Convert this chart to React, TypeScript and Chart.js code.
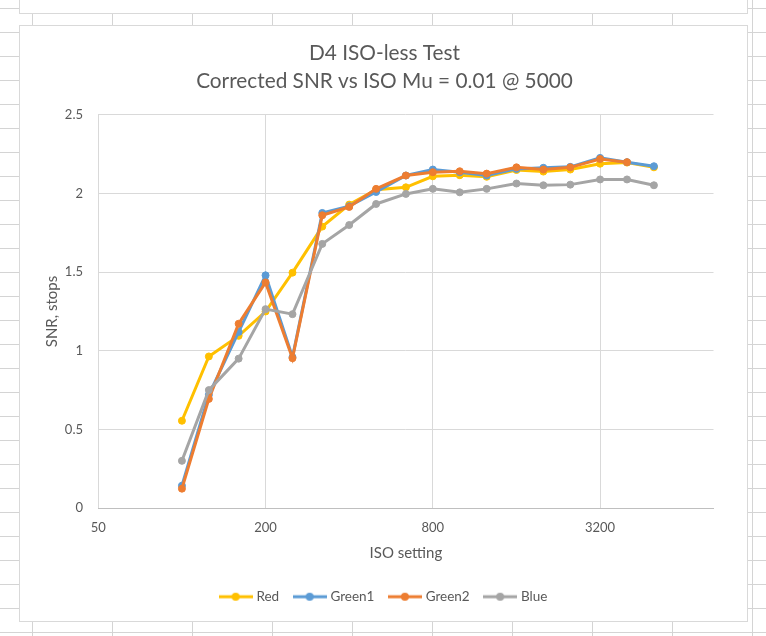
import React, { useEffect, useRef } from "react";
import { Chart, registerables } from "chart.js";

Chart.register(...registerables);

// ---- data ----
const isoSettings = [100, 125, 160, 200, 250, 320, 400, 500, 640, 800, 1000, 1250, 1600, 2000, 2500, 3200, 4000, 5000];
const redSNR = [0.555, 0.964, 1.095, 1.25, 1.497, 1.79, 1.93, 2.025, 2.04, 2.11, 2.117, 2.107, 2.15, 2.14, 2.153, 2.19, 2.197, 2.167];
const green1SNR = [0.142, 0.72, 1.12, 1.48, 0.96, 1.877, 1.92, 2.01, 2.115, 2.153, 2.136, 2.115, 2.157, 2.164, 2.17, 2.227, 2.2, 2.174];
const green2SNR = [0.123, 0.694, 1.172, 1.435, 0.953, 1.862, 1.915, 2.03, 2.115, 2.136, 2.142, 2.127, 2.167, 2.153, 2.167, 2.22, 2.2, null];
const blueSNR = [0.3, 0.75, 0.95, 1.265, 1.233, 1.68, 1.8, 1.934, 1.998, 2.03, 2.008, 2.03, 2.064, 2.053, 2.057, 2.09, 2.09, 2.053];

const seriesNames = ["Red", "Green1", "Green2", "Blue"];
const seriesColors = ["#FFC000", "#5B9BD5", "#ED7D31", "#A5A5A5"];
const seriesValues = [redSNR, green1SNR, green2SNR, blueSNR];

const xTickValues = [50, 200, 800, 3200];
const xMin = 50;
const xMax = 8192;
const yMin = 0;
const yMax = 2.5;
const yStep = 0.5;

const titleLines = ["D4 ISO-less Test", "Corrected SNR vs ISO Mu = 0.01 @ 5000"];
const xTitle = "ISO setting";
const yTitle = "SNR, stops";

const FONT = "Lato, 'Open Sans', sans-serif";
const TEXT = "#595959";
const GRID = "#d9d9d9";
const SHEET = "#d4d4d4";

function makeMarker(color: string) {
  const c = document.createElement("canvas");
  c.width = 34;
  c.height = 10;
  const ctx = c.getContext("2d")!;
  ctx.strokeStyle = color;
  ctx.lineWidth = 3;
  ctx.beginPath();
  ctx.moveTo(0, 5);
  ctx.lineTo(34, 5);
  ctx.stroke();
  ctx.fillStyle = color;
  ctx.beginPath();
  ctx.arc(17, 5, 4, 0, Math.PI * 2);
  ctx.fill();
  return c;
}

function SheetGrid() {
  const lines: React.ReactNode[] = [];
  for (let y = 8; y < 636; y += 24) {
    lines.push(<div key={"r" + y} style={{ position: "absolute", left: 0, top: y, width: 766, height: 1, background: SHEET }} />);
  }
  for (let x = 32; x < 766; x += 80) {
    lines.push(<div key={"c" + x} style={{ position: "absolute", left: x, top: 0, width: 1, height: 636, background: SHEET }} />);
  }
  return <>{lines}</>;
}

export default function App() {
  const canvasRef = useRef<HTMLCanvasElement | null>(null);

  useEffect(() => {
    const canvas = canvasRef.current;
    if (!canvas) return;
    const markers = seriesColors.map(makeMarker);
    const chart = new Chart(canvas, {
      type: "line",
      data: {
        datasets: seriesNames.map((name, i) => ({
          label: name,
          data: isoSettings.map((x, j) => ({ x, y: seriesValues[i][j] })),
          borderColor: seriesColors[i],
          backgroundColor: seriesColors[i],
          pointBackgroundColor: seriesColors[i],
          pointBorderColor: seriesColors[i],
          borderWidth: 3,
          pointRadius: 3.5,
          pointBorderWidth: 1,
          tension: 0,
          spanGaps: false,
          order: seriesNames.length - 1 - i,
        })),
      },
      options: {
        responsive: false,
        animation: false,
        events: [],
        layout: { padding: { left: 35.5, right: 33.5, top: 0, bottom: 7.55 } },
        scales: {
          x: {
            type: "logarithmic",
            min: xMin,
            max: xMax,
            afterBuildTicks: (s: any) => {
              s.ticks = xTickValues.map((v) => ({ value: v }));
            },
            afterFit: (s: any) => {
              s.height = 65.45;
            },
            ticks: {
              autoSkip: false,
              maxRotation: 0,
              padding: 11.9,
              color: TEXT,
              font: { family: FONT, size: 13 },
              callback: (v: any) => String(v),
            },
            grid: { color: GRID, lineWidth: 1, drawTicks: false },
            border: { display: true, color: "#bfbfbf", width: 1 },
            title: {
              display: true,
              text: xTitle,
              color: TEXT,
              font: { family: FONT, size: 15, lineHeight: 1.2 },
              padding: { top: 0, bottom: 11.45 },
            },
          },
          y: {
            type: "linear",
            min: yMin,
            max: yMax,
            afterFit: (s: any) => {
              s.width = 42.8;
            },
            ticks: {
              stepSize: yStep,
              padding: 15.3,
              color: TEXT,
              font: { family: FONT, size: 13 },
              callback: (v: any) => String(Number(v)),
            },
            grid: {
              color: (c: any) => (c.tick && c.tick.value === 0 ? "#bfbfbf" : GRID),
              lineWidth: 1,
              drawTicks: false,
            },
            border: { display: false },
            title: {
              display: true,
              text: yTitle,
              color: TEXT,
              font: { family: FONT, size: 15, lineHeight: 1.2 },
              padding: { top: -12.5, bottom: 0 },
            },
          },
        },
        plugins: {
          tooltip: { enabled: false },
          title: {
            display: true,
            text: titleLines,
            color: TEXT,
            font: { family: FONT, size: 20.8, weight: "normal", lineHeight: 1.365 },
            padding: { top: 14.1, bottom: 19.1 },
          },
          legend: {
            display: true,
            position: "bottom",
            labels: {
              usePointStyle: true,
              pointStyleWidth: 28,
              padding: 16.5,
              color: TEXT,
              font: { family: FONT, size: 13.5 },
              generateLabels: (ch: any) =>
                ch.data.datasets.map((ds: any, i: number) => ({
                  text: ds.label,
                  pointStyle: markers[i],
                  fillStyle: seriesColors[i],
                  strokeStyle: seriesColors[i],
                  lineWidth: 0,
                  hidden: false,
                  datasetIndex: i,
                  fontColor: TEXT,
                })),
            },
          },
        },
      } as any,
    });
    return () => chart.destroy();
  }, []);

  return (
    <div style={{ position: "fixed", left: 0, top: 0, width: 766, height: 636, background: "#fff", overflow: "hidden" }}>
      <SheetGrid />
      <div style={{ position: "absolute", left: 19, top: -20, width: 729, height: 34, boxSizing: "border-box", border: `1px solid ${GRID}`, background: "#fff" }} />
      <div style={{ position: "absolute", left: 19, top: 25, width: 729, height: 597, boxSizing: "border-box", border: `1px solid ${GRID}`, background: "#fff" }} />
      <canvas
        ref={canvasRef}
        width={727}
        height={596}
        style={{ position: "absolute", left: 20, top: 25, width: 727, height: 596 }}
      />
    </div>
  );
}
